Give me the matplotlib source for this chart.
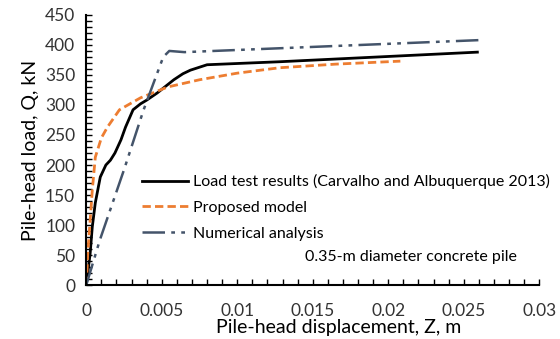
import matplotlib.pyplot as plt
from matplotlib.ticker import MultipleLocator

plt.rcParams['font.family'] = ['Lato', 'DejaVu Sans']

# load test results (Carvalho and Albuquerque 2013)
test_z = [0, 0.0001, 0.00026, 0.0004, 0.0006, 0.00093, 0.0013, 0.0016, 0.0019, 0.0023,
          0.0026, 0.0031, 0.0036, 0.004, 0.0047, 0.0053, 0.0058, 0.0064, 0.0069, 0.008,
          0.0128, 0.0259]
test_q = [0, 20, 53, 97, 137, 180, 200, 208, 220, 242, 263, 292, 302, 308, 320, 332,
          342, 352, 358, 367, 372, 388]

# proposed model
model_z = [0, 0.00005, 0.0001, 0.00026, 0.0004, 0.0006, 0.001, 0.0014, 0.0022,
           0.0036, 0.0054, 0.0075, 0.0100, 0.0128, 0.0165, 0.0208]
model_q = [0, 25, 53, 108, 158, 213, 245, 263, 292, 312, 330, 342, 353, 362, 368, 373]

# numerical analysis
num_z = [0, 0.0009, 0.0025, 0.0038, 0.0051, 0.0055, 0.0065, 0.026]
num_q = [0, 75, 192, 292, 380, 390, 388, 408]

fig = plt.figure(figsize=(5.6, 3.39), dpi=100)
ax = fig.add_axes([0.154, 0.159, 0.809, 0.797])

ax.plot(test_z, test_q, color='black', lw=2.0,
        label='Load test results (Carvalho and Albuquerque 2013)')
ax.plot(model_z, model_q, color='#ED7D31', lw=2.0, ls=(0, (3, 1.5)),
        label='Proposed model')
ax.plot(num_z, num_q, color='#44546A', lw=1.8, ls=(0, (9, 2.5, 1.5, 2.5, 1.5, 2.5)),
        label='Numerical analysis')

ax.set_xlim(0, 0.03)
ax.set_ylim(0, 450)
ax.set_xticks([0, 0.005, 0.01, 0.015, 0.02, 0.025, 0.03])
ax.set_xticklabels(['0', '0.005', '0.01', '0.015', '0.02', '0.025', '0.03'])
ax.xaxis.set_minor_locator(MultipleLocator(0.001))
ax.yaxis.set_major_locator(MultipleLocator(50))
ax.yaxis.set_minor_locator(MultipleLocator(10))

for s in ['top', 'right']:
    ax.spines[s].set_visible(False)
ax.spines['left'].set_linewidth(1.5)
ax.spines['bottom'].set_linewidth(1.5)
ax.tick_params(which='both', direction='in', length=4, width=1.0, labelsize=12.5,
               colors='black', labelcolor='#333333')
ax.tick_params(axis='x', pad=13)
ax.tick_params(axis='y', pad=8)

ax.set_xlabel('Pile-head displacement, Z, m', fontsize=14)
ax.xaxis.set_label_coords(0.556, -0.125)
ax.set_ylabel('Pile-head load, Q, kN', fontsize=14, labelpad=4)

ax.legend(loc='upper left', bbox_to_anchor=(0.122, 0.41), frameon=False,
          borderpad=0, borderaxespad=0,
          fontsize=11.5, handlelength=2.9, handletextpad=0.3, labelspacing=0.72)
ax.text(0.0215, 47, '0.35-m diameter concrete pile', fontsize=11.5,
        ha='center', va='center')

fig.savefig('out.png', dpi=100)
